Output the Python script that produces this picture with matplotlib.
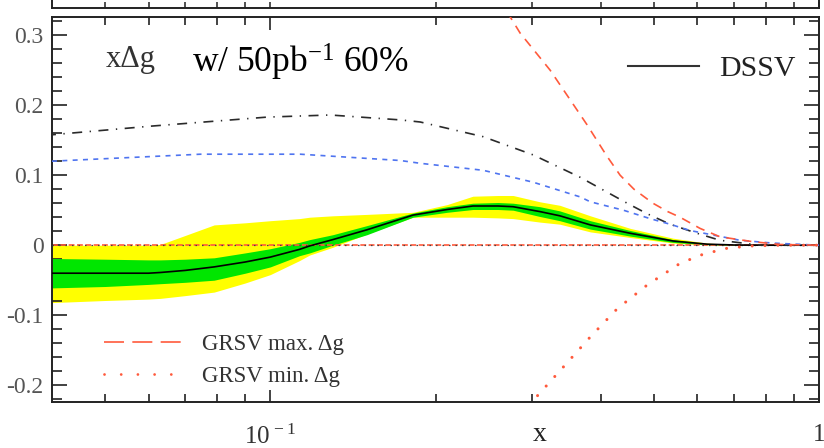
import matplotlib
matplotlib.use("Agg")
import matplotlib.pyplot as plt
from matplotlib.lines import Line2D
from matplotlib.ticker import FixedLocator, NullFormatter

plt.rcParams['font.family'] = ['Liberation Serif', 'DejaVu Serif']
plt.rcParams['mathtext.fontset'] = 'custom'
plt.rcParams['mathtext.rm'] = 'Liberation Serif'
plt.rcParams['mathtext.it'] = 'Liberation Serif:italic'
plt.rcParams['mathtext.bf'] = 'Liberation Serif:bold'

# ---------------- data ----------------
x_band = [0.04, 0.05, 0.06, 0.063, 0.07, 0.079, 0.09, 0.1, 0.113, 0.118, 0.13, 0.15,
          0.182, 0.21, 0.234, 0.26, 0.277, 0.31, 0.337, 0.383, 0.453, 0.542, 0.625,
          0.7, 0.8, 1.0]
dssv_central = [-0.040, -0.040, -0.040, -0.039, -0.036, -0.031, -0.024, -0.017, -0.006,
                -0.001, 0.008, 0.022, 0.043, 0.051, 0.056, 0.056, 0.055, 0.048, 0.042,
                0.029, 0.017, 0.006, 0.0015, 0.0003, 0.0, 0.0]
green_hi = [-0.019, -0.020, -0.021, -0.021, -0.020, -0.018, -0.011, -0.005, 0.004, 0.008,
            0.015, 0.028, 0.046, 0.055, 0.060, 0.061, 0.060, 0.055, 0.049, 0.035, 0.021,
            0.008, 0.002, 0.0005, 0.0, 0.0]
green_lo = [-0.061, -0.059, -0.056, -0.055, -0.053, -0.050, -0.040, -0.031, -0.015, -0.011,
            0.000, 0.015, 0.040, 0.047, 0.051, 0.051, 0.050, 0.041, 0.035, 0.023, 0.013,
            0.004, 0.0007, 0.0, 0.0, 0.0]
yellow_hi = [0.000, 0.000, 0.000, 0.001, 0.014, 0.029, 0.032, 0.035, 0.038, 0.040, 0.042,
             0.044, 0.047, 0.058, 0.070, 0.071, 0.071, 0.062, 0.057, 0.042, 0.024, 0.010,
             0.003, 0.001, 0.0, 0.0]
yellow_lo = [-0.082, -0.079, -0.077, -0.076, -0.072, -0.067, -0.054, -0.042, -0.022, -0.014,
             -0.003, 0.016, 0.040, 0.040, 0.040, 0.039, 0.038, 0.033, 0.030, 0.019, 0.011,
             0.003, 0.0005, 0.0, 0.0, 0.0]

x_dashdot = [0.039, 0.0604, 0.0987, 0.1286, 0.1725, 0.1876, 0.2443, 0.3013, 0.367, 0.447,
             0.486, 0.535, 0.5996, 0.66, 0.781, 1.0]
y_dashdot = [0.157, 0.170, 0.183, 0.186, 0.179, 0.176, 0.155, 0.129, 0.097, 0.060,
             0.045, 0.030, 0.017, 0.007, 0.0, 0.0]

x_blue = [0.040, 0.0746, 0.1134, 0.1725, 0.1876, 0.2443, 0.3013, 0.367, 0.383, 0.44,
          0.492, 0.535, 0.582, 0.718, 0.824, 1.0]
y_blue = [0.120, 0.130, 0.130, 0.121, 0.117, 0.107, 0.090, 0.069, 0.062, 0.050,
          0.038, 0.030, 0.021, 0.007, 0.003, 0.0]

x_grsv_max = [0.25, 0.2737, 0.2853, 0.3236, 0.3778, 0.41, 0.434, 0.46, 0.498, 0.53,
              0.558, 0.607, 0.66, 0.758, 0.85, 1.0]
y_grsv_max = [0.370, 0.326, 0.303, 0.250, 0.172, 0.128, 0.100, 0.080, 0.060, 0.048,
              0.040, 0.024, 0.012, 0.005, 0.001, 0.0]

x_grsv_min = [0.28, 0.295, 0.306, 0.342, 0.383, 0.4285, 0.486, 0.558, 0.6145, 0.683,
              0.758, 0.85, 1.0]
y_grsv_min = [-0.26, -0.230, -0.216, -0.174, -0.131, -0.091, -0.057, -0.026, -0.013,
              -0.004, -0.001, 0.0, 0.0]

y_ticks = [-0.2, -0.1, 0.0, 0.1, 0.2, 0.3]
y_tick_labels = ['-0.2', '-0.1', '0', '0.1', '0.2', '0.3']
x_ticks = [0.1, 1.0]
x_tick_labels = [r'$\mathregular{10^{\,-1}}$', '1']
x_minor = [0.05, 0.06, 0.07, 0.08, 0.09, 0.2, 0.3, 0.4, 0.5, 0.6, 0.7, 0.8, 0.9]

# ---------------- colours ----------------
YELLOW = '#ffff00'
GREEN = '#00e600'
RED = '#ff5a3c'
BLUE = '#4f74f0'
DARK = '#2a2a2a'

fig = plt.figure(figsize=(8.24, 4.48), dpi=100)
ax = fig.add_axes([52 / 824, 46 / 448, 767 / 824, 385 / 448])

ax.set_xscale('log')
ax.set_xlim(0.04, 1.0)
ax.set_ylim(-0.224, 0.326)

ax.fill_between(x_band, yellow_lo, yellow_hi, color=YELLOW, lw=0, zorder=1)
ax.fill_between(x_band, green_lo, green_hi, color=GREEN, lw=0, zorder=2)
ax.plot(x_band, dssv_central, color='black', lw=1.2, zorder=3)

# zero reference line
ax.axhline(0, color=RED, lw=1.2, ls=(0, (3.5, 1.5)), zorder=2.5)
ax.axhline(0, color='#444444', lw=0.9, ls=(0, (1.2, 4)), zorder=2.6)

ax.plot(x_dashdot, y_dashdot, color=DARK, lw=1.2, ls=(0, (6, 4.5, 0.8, 4.5)), zorder=4)
ax.plot(x_blue, y_blue, color=BLUE, lw=1.2, ls=(0, (3, 3.2)), zorder=4)
ax.plot(x_grsv_max, y_grsv_max, color=RED, lw=1.2, ls=(0, (5.5, 4.2)), zorder=4)
ax.plot(x_grsv_min, y_grsv_min, color=RED, lw=2.2, ls=(0, (0.01, 4.2)),
        dash_capstyle='round', zorder=4)

# axes styling
for s in ax.spines.values():
    s.set_linewidth(1.4)
    s.set_color('#222222')

ax.set_yticks(y_ticks)
ax.set_yticklabels(y_tick_labels, fontsize=17, color='#555555')
ax.yaxis.set_minor_locator(FixedLocator([v / 100 for v in range(-22, 33, 2)]))
ax.set_xticks(x_ticks)
ax.set_xticklabels(x_tick_labels, fontsize=18, color='#333333')
ax.xaxis.set_minor_locator(FixedLocator(x_minor))
ax.xaxis.set_minor_formatter(NullFormatter())

ax.tick_params(axis='both', which='both', direction='in', top=True, right=True,
               width=1.2, color='#222222')
ax.tick_params(axis='y', which='major', length=11, pad=6)
ax.tick_params(axis='y', which='minor', length=7)
ax.tick_params(axis='x', which='major', length=9, pad=16)
ax.tick_params(axis='x', which='minor', length=6)

ax.set_xlabel('x', fontsize=20, color='#222222', va='bottom')
ax.xaxis.set_label_coords(0.636, -0.117)

# annotations
ax.text(0.070, 0.870, 'x\u0394g', transform=ax.transAxes, fontsize=22,
        color='#333333', ha='left', va='baseline')
ax.text(0.1825, 0.8545, r'w/ 50pb$^{\mathregular{-1}}$ 60%', transform=ax.transAxes,
        fontsize=25.5, color='black', ha='left', va='baseline',
        bbox=dict(facecolor='white', edgecolor='none', pad=1))

# legends
h_dssv = [Line2D([], [], color='#333333', lw=1.5)]
leg1 = ax.legend(h_dssv, ['DSSV'], loc='center right', bbox_to_anchor=(0.969, 0.865),
                 frameon=False, fontsize=21.5, handlelength=2.4, handletextpad=0.65,
                 borderpad=0, borderaxespad=0)
for t in leg1.get_texts():
    t.set_color('#222222')
ax.add_artist(leg1)

h_grsv = [Line2D([], [], color=RED, lw=1.2, ls=(0, (12, 5))),
          Line2D([], [], color=RED, lw=2.0, ls=(0, (0.01, 6)), dash_capstyle='round')]
leg2 = ax.legend(h_grsv, ['GRSV max. \u0394g', 'GRSV min. \u0394g'], loc='center left',
                 bbox_to_anchor=(0.068, 0.108), frameon=False, fontsize=16.5,
                 handlelength=3.5, handletextpad=0.75, labelspacing=0.45,
                 borderpad=0, borderaxespad=0)
for t in leg2.get_texts():
    t.set_color('#333333')

# partial upper panel (cut by the figure edge)
ax2 = fig.add_axes([52 / 824, 440 / 448, 767 / 824, 0.3])
ax2.set_xscale('log')
ax2.set_xlim(0.04, 1.0)
ax2.set_ylim(0, 1)
ax2.set_xticks(x_ticks)
ax2.xaxis.set_minor_locator(FixedLocator(x_minor))
ax2.set_xticklabels([])
ax2.xaxis.set_minor_formatter(NullFormatter())
ax2.set_yticks([])
ax2.tick_params(axis='x', which='both', direction='in', length=4, width=1.1,
                color='#222222')
for s in ax2.spines.values():
    s.set_linewidth(1.4)
    s.set_color('#222222')

fig.savefig('out.png', dpi=100)
